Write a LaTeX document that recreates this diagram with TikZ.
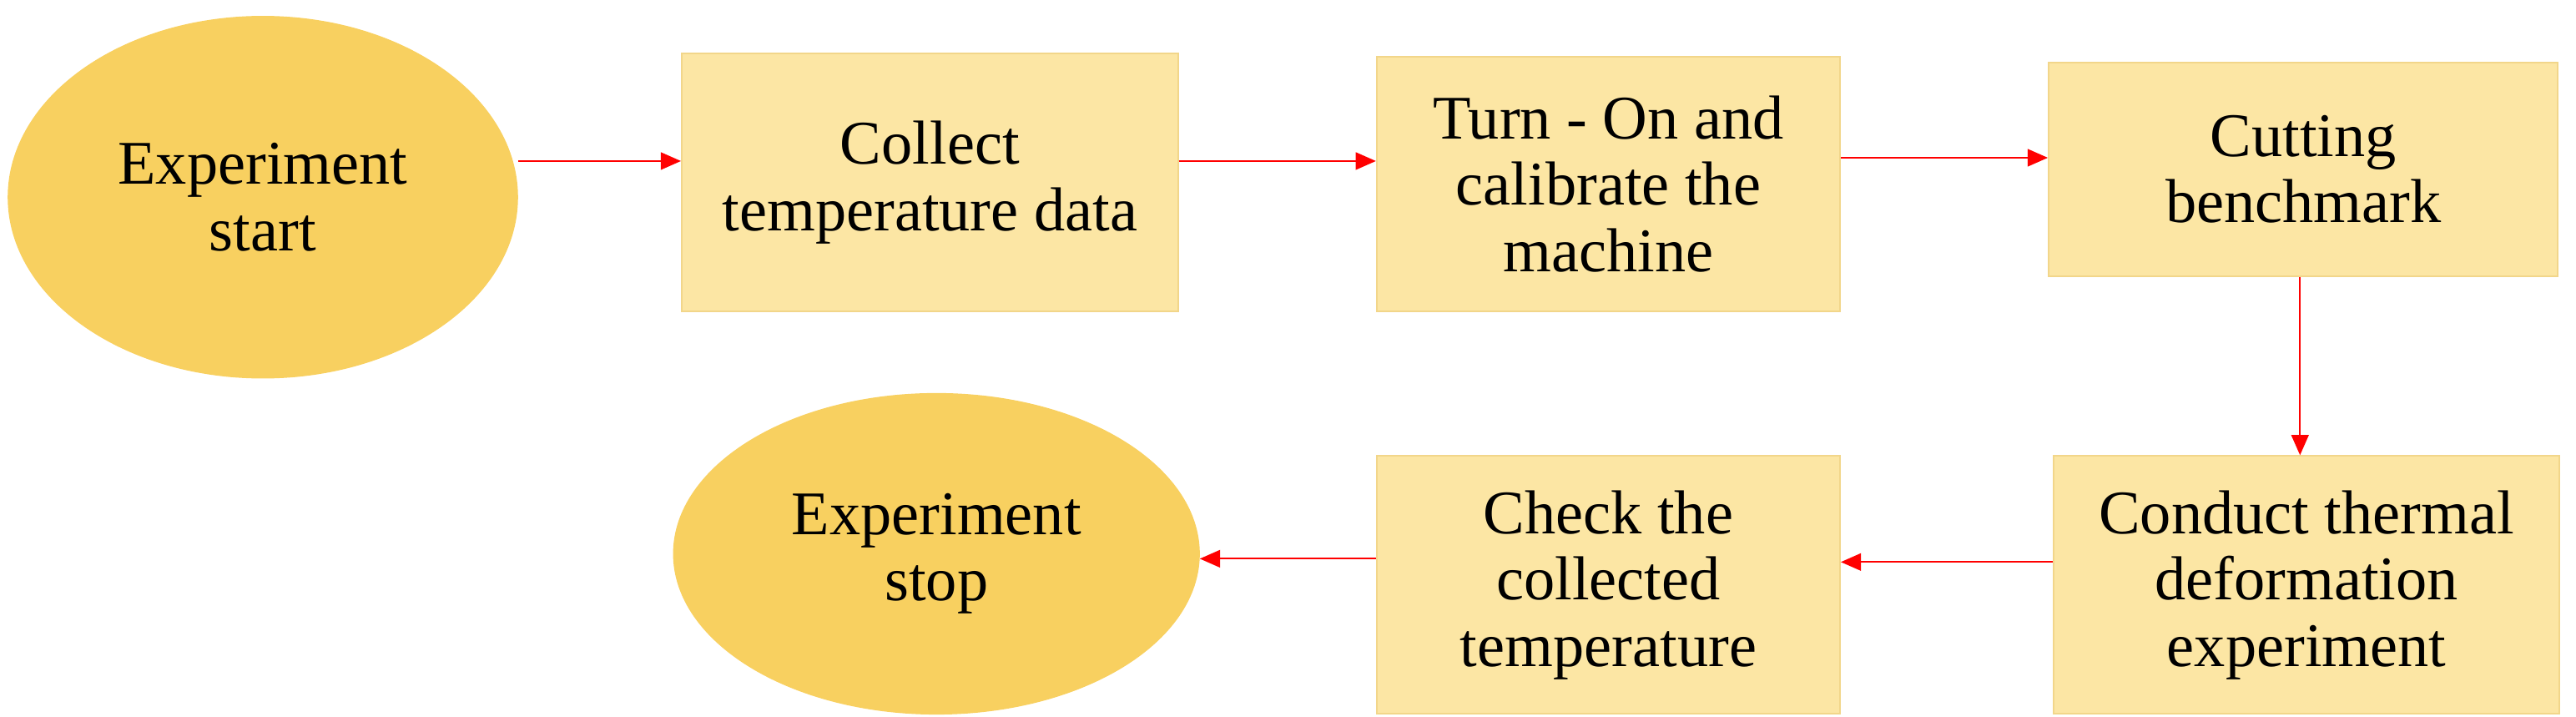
\documentclass[tikz,border=0pt]{standalone}
\usepackage{fontspec}
\setmainfont{Liberation Serif}
\usetikzlibrary{shapes.geometric,arrows.meta}
\definecolor{ellfill}{HTML}{F8D060}
\definecolor{boxfill}{HTML}{FCE6A4}
\definecolor{boxline}{HTML}{F2D68A}
\begin{document}
\begin{tikzpicture}[x=0.02cm,y=-0.02cm,
  ell/.style={ellipse,fill=ellfill,draw=ellfill,inner sep=0pt,align=center,font=\fontsize{21.5}{23}\selectfont},
  bx/.style={rectangle,fill=boxfill,draw=boxline,line width=0.6pt,inner sep=0pt,align=center,font=\fontsize{21.5}{23}\selectfont},
  arr/.style={red,line width=0.6pt,-{Triangle[length=7pt,width=6pt]}}]
\useasboundingbox (0,0) rectangle (1568,436.3);
\node[ell,minimum width=6.2cm,minimum height=4.4cm] (e1) at (160,120) {Experiment\\start};
\node[bx,minimum width=6.04cm,minimum height=3.14cm] (b1) at (566,111) {Collect\\temperature data};
\node[bx,minimum width=5.64cm,minimum height=3.1cm] (b2) at (979,112) {Turn - On and\\calibrate the\\machine};
\node[bx,minimum width=6.2cm,minimum height=2.6cm] (b3) at (1402,103) {Cutting\\benchmark};
\node[bx,minimum width=6.16cm,minimum height=3.14cm] (b4) at (1404,356) {Conduct thermal\\deformation\\experiment};
\node[bx,minimum width=5.64cm,minimum height=3.14cm] (b5) at (979,356) {Check the\\collected\\temperature};
\node[ell,minimum width=6.4cm,minimum height=3.9cm] (e2) at (570,337) {Experiment\\stop};
\draw[arr] (e1.east |- 0,98) -- (b1.west |- 0,98);
\draw[arr] (b1.east |- 0,98) -- (b2.west |- 0,98);
\draw[arr] (b2.east |- 0,96) -- (b3.west |- 0,96);
\draw[arr] (b3.south -| 1400,0) -- (b4.north -| 1400,0);
\draw[arr] (b4.west |- 0,342) -- (b5.east |- 0,342);
\draw[arr] (b5.west |- 0,340) -- (e2.east |- 0,340);
\end{tikzpicture}
\end{document}
